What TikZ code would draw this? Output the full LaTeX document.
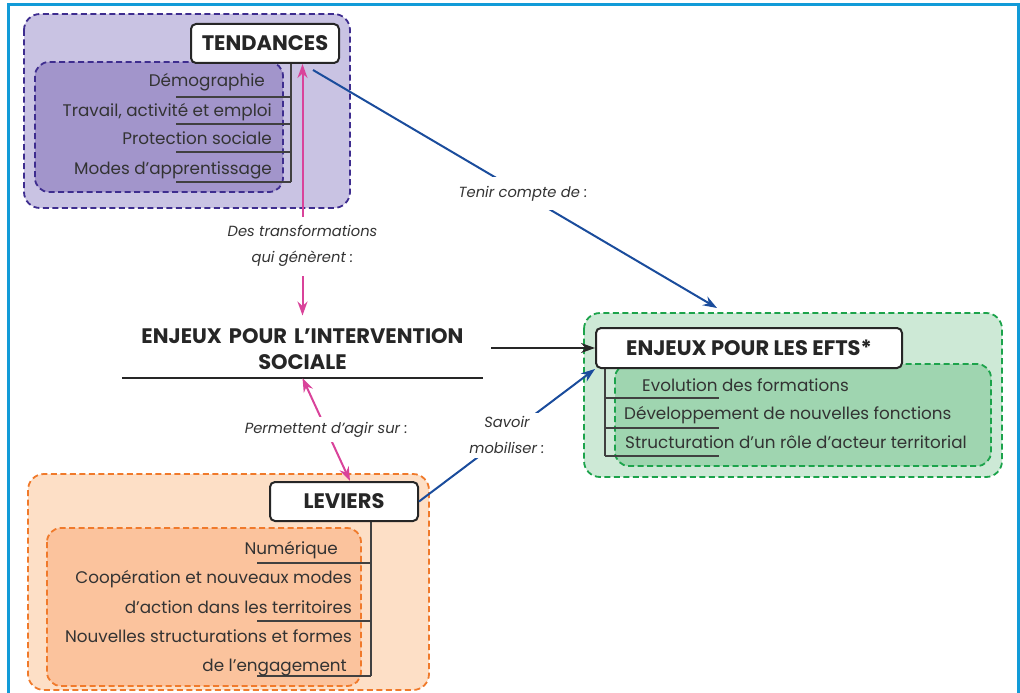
\documentclass[tikz,border=0pt]{standalone}
\usepackage{fontspec}
\setmainfont{Poppins}
\usetikzlibrary{calc}
\usetikzlibrary{arrows.meta}

\definecolor{framecol}{RGB}{18,155,216}
\definecolor{purpleline}{RGB}{62,45,143}
\definecolor{purplelight}{RGB}{201,195,227}
\definecolor{purplemid}{RGB}{162,149,203}
\definecolor{orangeline}{RGB}{240,122,43}
\definecolor{orangelight}{RGB}{253,223,198}
\definecolor{orangemid}{RGB}{251,195,157}
\definecolor{greenline}{RGB}{28,163,75}
\definecolor{greenlight}{RGB}{205,233,214}
\definecolor{greenmid}{RGB}{159,213,176}
\definecolor{pinkcol}{RGB}{217,67,154}
\definecolor{bluecol}{RGB}{26,76,156}

\begin{document}
\begin{tikzpicture}[x=1pt, y=-1pt]
                \tikzstyle{zone} = [line width=1.8pt, dash pattern=on 6pt off 3.5pt, rounded corners=16pt, draw={#1}]
                \tikzstyle{titlebox} = [draw=black!85, line width=2pt, fill=white, rounded corners=5pt, inner sep=0pt, text=black!85, font=\bfseries\fontsize{21}{24}\selectfont]
                \tikzstyle{item} = [inner sep=0pt, text=black!80, font=\fontsize{16.8}{19}\selectfont]
                \tikzstyle{rule} = [draw=black!75, line width=1.1pt]
                \tikzstyle{cue} = [fill=white, inner xsep=4pt, inner ysep=9pt, align=center, text=black!80, font=\itshape\fontsize{14.7}{26}\selectfont]
                \tikzstyle{pinkarrow} = [draw=pinkcol, line width=2pt, {Stealth[length=14pt,width=10pt]}-{Stealth[length=14pt,width=10pt]}]
                \tikzstyle{bluearrow} = [draw=bluecol, line width=2pt, -{Stealth[length=14pt,width=10pt]}]
                \tikzstyle{blackarrow} = [draw=black!85, line width=2pt, -{Stealth[length=14pt,width=10pt]}]
                \useasboundingbox (0,0) rectangle (1020,693);
                \draw[framecol, line width=3pt] (8,693) -- (8,5) -- (1018,5) -- (1018,693);
                \draw[zone=purpleline, fill=purplelight] (24,14) rectangle (350,208);
                \draw[zone=purpleline, fill=purplemid, rounded corners=14pt] (35,62) rectangle (283,192);
                \draw[zone=orangeline, fill=orangelight] (28,474) rectangle (429,690);
                \draw[zone=orangeline, fill=orangemid, rounded corners=14pt] (47,528) rectangle (361,686);
                \draw[zone=greenline, fill=greenlight] (584,313) rectangle (1002,477);
                \draw[zone=greenline, fill=greenmid, rounded corners=14pt] (615,364) rectangle (991,466);
                \draw[rule] (291,63) -- (291,182);
                \foreach \y in {97,124,152,182} \draw[rule] (176,\y) -- (291,\y);
                \draw[rule] (371,521) -- (371,676);
                \foreach \y in {563,621,676} \draw[rule] (257,\y) -- (371,\y);
                \draw[rule] (605,368) -- (605,456);
                \foreach \y in {398,428,456} \draw[rule] (605,\y) -- (719,\y);
                \node[titlebox, minimum width=148pt, minimum height=39pt] (tend) at (265,43.5) {TENDANCES};
                \node[titlebox, minimum width=148pt, minimum height=39pt] (lev) at (344,501.5) {LEVIERS};
                \node[titlebox, minimum width=306pt, minimum height=40pt] (efts) at (749,348) {ENJEUX POUR LES EFTS*};
                \node[item, anchor=base east] (dem) at (265,86) {Démographie};
                \node[item, anchor=base east] (trav) at (272,116) {Travail, activité et emploi};
                \node[item, anchor=base east] (prot) at (272,144) {Protection sociale};
                \node[item, anchor=base east] (appr) at (272,174) {Modes d'apprentissage};
                \node[item, anchor=base east] (num) at (338,554) {Numérique};
                \node[item, anchor=base east] (coop) at (352,583) {Coopération et nouveaux modes};
                \node[item, anchor=base east] (terr) at (352,613) {d'action dans les territoires};
                \node[item, anchor=base east] (nouv) at (352,642) {Nouvelles structurations et formes};
                \node[item, anchor=base east] (enga) at (347,671) {de l'engagement};
                \node[item, anchor=base west] (evol) at (642,391) {Evolution des formations};
                \node[item, anchor=base west] (dev) at (624,419) {Développement de nouvelles fonctions};
                \node[item, anchor=base west] (stru) at (625,448) {Structuration d'un rôle d'acteur territorial};
                \node[anchor=south, align=center, text width=361pt, inner xsep=0pt, inner ysep=8pt, text=black!85, font=\bfseries\fontsize{21}{26}\selectfont] (enj) at (302.5,378) {ENJEUX POUR L’INTERVENTION\\SOCIALE};
                \draw[black!85, line width=2pt] (enj.south west) -- (enj.south east);
                \coordinate (eftstop) at (717,308);
                \draw[pinkarrow, shorten <=5pt] (enj.north) -- node[pos=0.29, cue] {Des transformations\\qui génèrent :} (enj.north |- tend.south);
                \draw[pinkarrow] (enj.south) -- node[cue, inner ysep=5pt] {Permettent d'agir sur :} ([xshift=6pt]lev.north);
                \draw[bluearrow] ($(tend.south)+(48,6)$) -- node[pos=0.52, cue] {Tenir compte de :} (eftstop);
                \draw[bluearrow] (lev.east) -- node[cue, inner ysep=4pt] {Savoir\\mobiliser :} (efts.south west);
                \draw[blackarrow, shorten <=8pt] (enj.east |- efts.west) -- (efts.west);
            \end{tikzpicture}
\end{document}
